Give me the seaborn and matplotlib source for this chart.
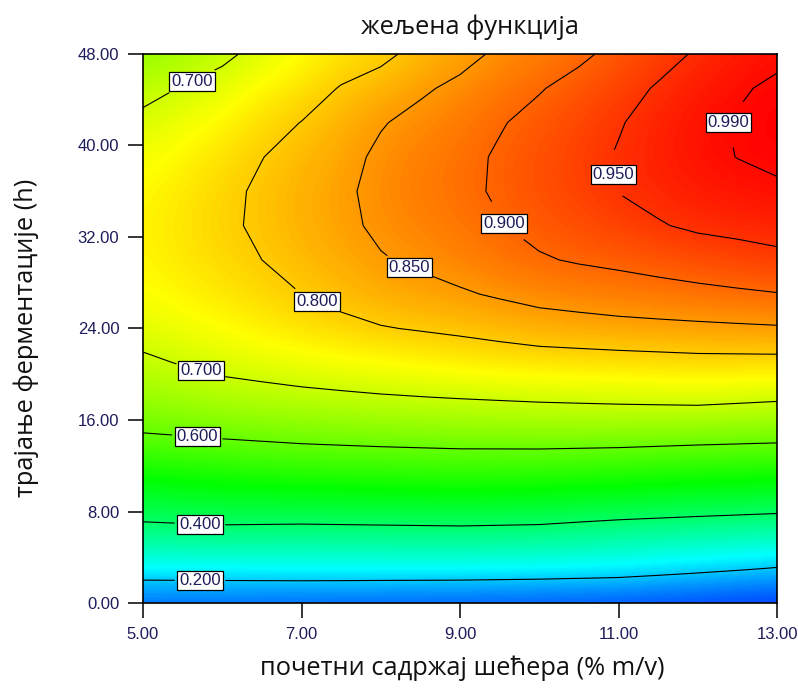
import numpy as np
import matplotlib
matplotlib.use("Agg")
import matplotlib.pyplot as plt
from matplotlib.colors import LinearSegmentedColormap
import seaborn as sns

# ---- data: desirability, one list per sugar level ----
sugar = [5, 5.5, 6, 6.5, 7, 7.5, 8, 8.5, 9, 9.5, 10, 10.5, 11, 11.5, 12, 12.5, 13]
hours = [0, 3, 6, 9, 12, 15, 18, 21, 24, 27, 30, 33, 36, 39, 42, 45, 48]

d_s050 = [0.10, 0.25, 0.37, 0.452, 0.53, 0.603, 0.65, 0.689, 0.724, 0.744, 0.755, 0.758, 0.752, 0.737, 0.714, 0.682, 0.641]
d_s055 = [0.0975, 0.2525, 0.3725, 0.4585, 0.5375, 0.609, 0.661, 0.7035, 0.736, 0.758, 0.771, 0.775, 0.770, 0.757, 0.734, 0.703, 0.663]
d_s060 = [0.095, 0.255, 0.375, 0.465, 0.545, 0.615, 0.672, 0.718, 0.748, 0.771, 0.786, 0.792, 0.789, 0.777, 0.756, 0.725, 0.686]
d_s065 = [0.0925, 0.2575, 0.3725, 0.4675, 0.55, 0.62, 0.6785, 0.7265, 0.763, 0.786, 0.800, 0.807, 0.807, 0.799, 0.782, 0.755, 0.72]
d_s070 = [0.09, 0.26, 0.37, 0.47, 0.555, 0.625, 0.685, 0.735, 0.776, 0.80, 0.816, 0.824, 0.824, 0.816, 0.801, 0.777, 0.746]
d_s075 = [0.0875, 0.26, 0.371, 0.4725, 0.5575, 0.6285, 0.69, 0.7425, 0.788, 0.813, 0.830, 0.840, 0.842, 0.836, 0.823, 0.803, 0.774]
d_s080 = [0.085, 0.26, 0.372, 0.475, 0.56, 0.632, 0.695, 0.75, 0.797, 0.829, 0.847, 0.858, 0.862, 0.858, 0.847, 0.822, 0.787]
d_s085 = [0.0825, 0.26, 0.373, 0.4775, 0.5615, 0.635, 0.699, 0.7575, 0.8035, 0.8365, 0.857, 0.8705, 0.876, 0.873, 0.8625, 0.8436, 0.8166]
d_s090 = [0.08, 0.26, 0.374, 0.48, 0.563, 0.638, 0.703, 0.765, 0.81, 0.845, 0.869, 0.883, 0.89, 0.888, 0.878, 0.86, 0.835]
d_s095 = [0.0775, 0.2575, 0.372, 0.4775, 0.5615, 0.64, 0.7065, 0.77, 0.8185, 0.855, 0.8836, 0.898, 0.9053, 0.9048, 0.8968, 0.881, 0.858]
d_s100 = [0.075, 0.255, 0.37, 0.475, 0.56, 0.642, 0.71, 0.775, 0.827, 0.865, 0.896, 0.912, 0.921, 0.921, 0.913, 0.897, 0.873]
d_s105 = [0.0725, 0.25, 0.361, 0.47, 0.5565, 0.642, 0.7125, 0.7775, 0.831, 0.871, 0.904, 0.924, 0.9347, 0.9367, 0.930, 0.915, 0.891]
d_s110 = [0.07, 0.245, 0.352, 0.465, 0.553, 0.642, 0.715, 0.78, 0.835, 0.877, 0.91, 0.935, 0.951, 0.953, 0.947, 0.934, 0.913]
d_s115 = [0.065, 0.2325, 0.346, 0.46, 0.549, 0.639, 0.7175, 0.7825, 0.8375, 0.8825, 0.9175, 0.947, 0.9618, 0.9678, 0.9652, 0.954, 0.934]
d_s120 = [0.06, 0.22, 0.34, 0.455, 0.545, 0.636, 0.72, 0.785, 0.84, 0.888, 0.925, 0.957, 0.973, 0.982, 0.982, 0.973, 0.955]
d_s125 = [0.055, 0.2075, 0.335, 0.45, 0.5425, 0.633, 0.715, 0.785, 0.8425, 0.893, 0.9325, 0.9615, 0.98, 0.9905, 0.9923, 0.9863, 0.973]
d_s130 = [0.05, 0.195, 0.33, 0.445, 0.54, 0.63, 0.71, 0.785, 0.845, 0.898, 0.94, 0.966, 0.985, 0.9966, 1.0, 0.9956, 0.983]

levels = [0.2, 0.4, 0.6, 0.7, 0.8, 0.85, 0.9, 0.95, 0.99]
label_spots = [(5.72, 2.4), (5.72, 7.3), (5.69, 14.9), (5.72, 20.1), (5.59, 46.0),
               (7.17, 26.0), (8.39, 29.8), (9.59, 33.3), (10.94, 37.5), (12.39, 42.0)]
x_ticks = [5, 7, 9, 11, 13]
y_ticks = [0, 8, 16, 24, 32, 40, 48]

title = "жељена функција"
xlabel = "почетни садржај шећера (% m/v)"
ylabel = "трајање ферментације (h)"

# ---- style ----
sns.set_theme(style="white")
plt.rcParams['font.family'] = ['Liberation Sans', 'DejaVu Sans']

Z = np.column_stack([d_s050, d_s055, d_s060, d_s065, d_s070, d_s075, d_s080, d_s085,
                     d_s090, d_s095, d_s100, d_s105, d_s110, d_s115, d_s120, d_s125,
                     d_s130])

W, H = 798, 693
fig = plt.figure(figsize=(W / 100, H / 100), dpi=100)
fig.patch.set_facecolor('white')
ax = fig.add_axes([143 / W, 1 - 603 / H, (777 - 143) / W, (603 - 54) / H])

cmap = LinearSegmentedColormap.from_list(
    'design', ['#0000ff', '#00ffff', '#00ff00', '#ffff00', '#ff0000'])

ax.imshow(Z, origin='lower', extent=[4.75, 13.25, -1.5, 49.5], aspect='auto',
          cmap=cmap, vmin=0, vmax=1, interpolation='bicubic')
cs = ax.contour(sugar, hours, Z, levels=levels, colors='black', linewidths=0.8)
labels = ax.clabel(cs, fmt='%.3f', inline=True, inline_spacing=3,
                   manual=label_spots, fontsize=12, colors='#1c1c5a')
for t in labels:
    t.set_bbox(dict(boxstyle='square,pad=0.12', facecolor='white',
                    edgecolor='black', linewidth=0.9))
    t.set_rotation(0)

ax.set_xlim(5, 13)
ax.set_ylim(0, 48)
ax.set_xticks(x_ticks)
ax.set_yticks(y_ticks)
ax.set_xticklabels([f"{v:.2f}" for v in x_ticks])
ax.set_yticklabels([f"{v:.2f}" for v in y_ticks])
ax.tick_params(axis='both', direction='out', length=11, width=1.1, color='black',
               labelsize=12, labelcolor='#1c1c5a', pad=6,
               bottom=True, left=True, top=False, right=False)
for s in ax.spines.values():
    s.set_color('black')
    s.set_linewidth(1.2)
    s.set_visible(True)

fs = 18.3
fig.text(470 / W, 1 - 27 / H, title, ha='center', va='center',
         fontsize=fs, family=['Open Sans', 'DejaVu Sans'], color='#111111')
fig.text(462 / W, 1 - 668 / H, xlabel, ha='center', va='center',
         fontsize=fs, family=['Open Sans', 'DejaVu Sans'], color='#111111')
fig.text(26 / W, 1 - 338 / H, ylabel, ha='center', va='center', rotation=90,
         fontsize=fs, family=['Open Sans', 'DejaVu Sans'], color='#111111')

fig.savefig('out.png', dpi=100, facecolor='white')
